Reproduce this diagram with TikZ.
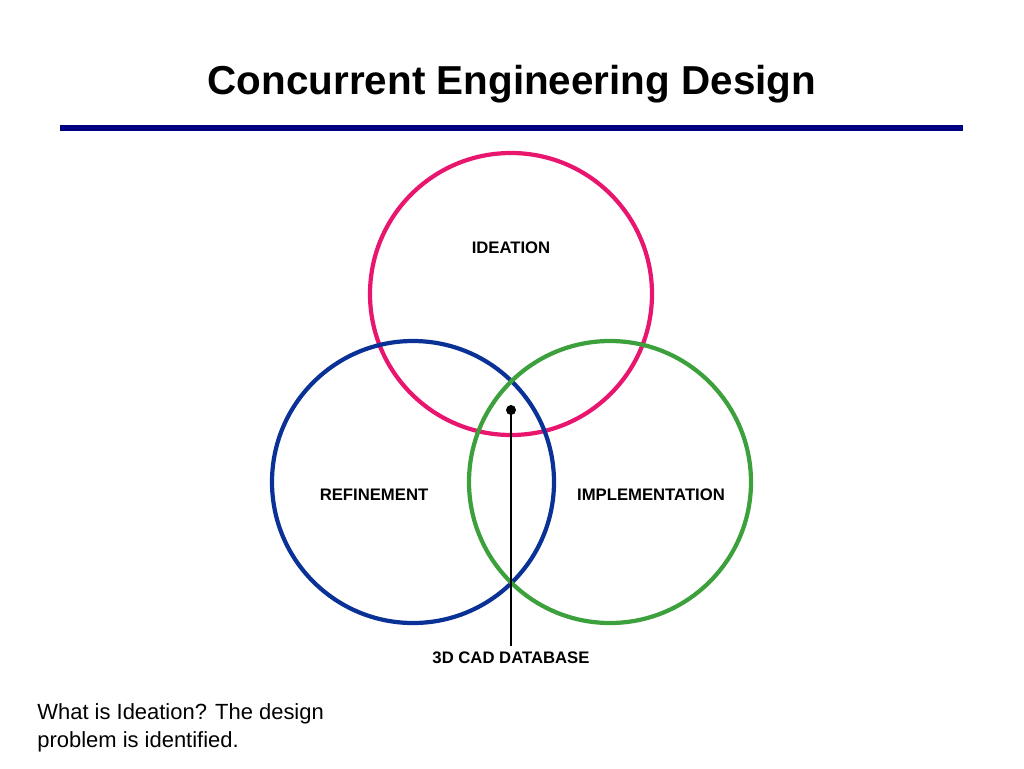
\documentclass[tikz,border=0pt]{standalone}
\usepackage{fontspec}
\setmainfont{Liberation Sans}
\usetikzlibrary{positioning}
\definecolor{ideapink}{RGB}{232,22,110}
\definecolor{refblue}{RGB}{10,50,150}
\definecolor{impgreen}{RGB}{60,160,60}
\definecolor{rulenavy}{RGB}{0,0,130}
\begin{document}
\begin{tikzpicture}[x=0.02cm, y=-0.02cm,
    ring/.style={line width=2.4pt},
    label/.style={font=\bfseries\fontsize{9.5}{11}\selectfont}]
    \useasboundingbox (0,0) rectangle (1024,768);
    % Title
    \node[font=\bfseries\fontsize{23}{27}\selectfont] (title) at (512,84) {Concurrent Engineering Design};
    \coordinate (ruleL) at (60,128);
    \coordinate (ruleR) at (963,128);
    \draw[rulenavy, line width=3.4pt] (ruleL) -- (ruleR);
    % Circles
    \draw[ring, ideapink] (511,294) circle (141);
    \draw[ring, refblue] (413,482) circle (141);
    \draw[ring, impgreen] (610,482) circle (141);
    % Labels
    \node[label] (ideation) at (511,248) {IDEATION};
    \node[label] (refinement) at (374,495) {REFINEMENT};
    \node[label] (implementation) at (651,495) {IMPLEMENTATION};
    \node[label] (cad) at (511,658) {3D CAD DATABASE};
    % Database pointer
    \coordinate (core) at (511,410);
    \fill (core) circle (5);
    \draw[line width=1.6pt] (core) -- (cad.north);
    % Note
    \node[anchor=north west, align=left, font=\fontsize{12.5}{16}\selectfont, inner sep=0pt] (note) at (37,703)
        {What is Ideation? The design\\problem is identified.};
\end{tikzpicture}
\end{document}
